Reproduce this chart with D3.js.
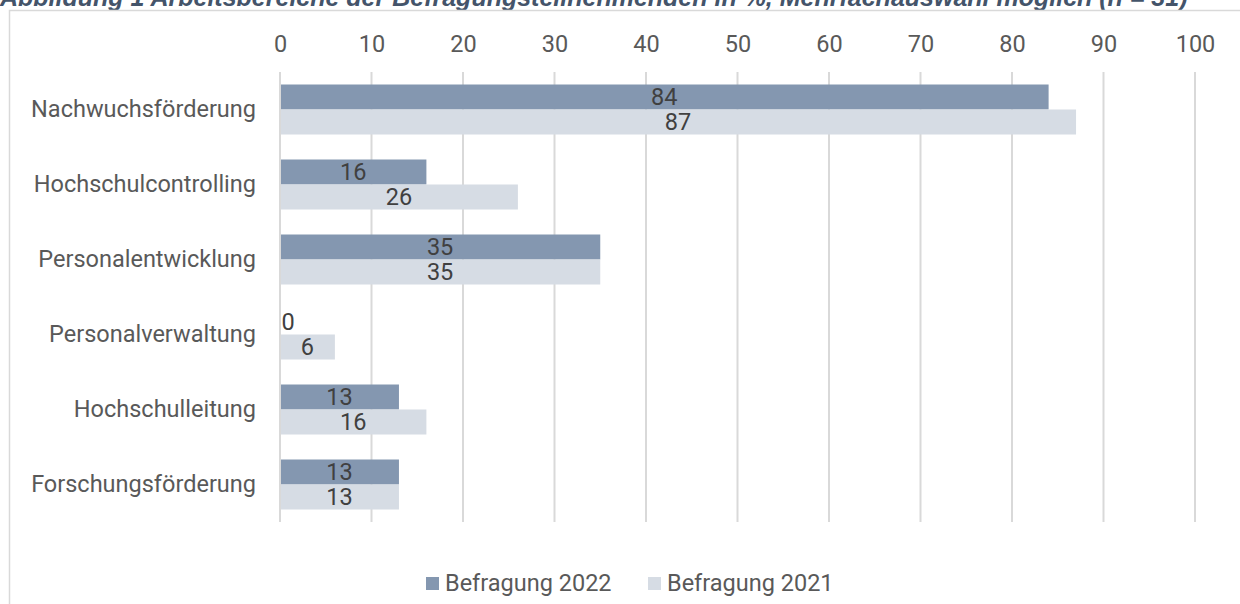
<!DOCTYPE html>
<html>
<head>
<meta charset="utf-8">
<script src="https://cdn.jsdelivr.net/npm/d3@7"></script>
<style>
  body { margin: 0; background: #fff; overflow: hidden; }
  svg { display: block; font-family: Roboto, "Noto Sans", sans-serif; }
</style>
</head>
<body>
<svg id="chart" width="1240" height="604"></svg>
<script>
// data
var categories = ["Nachwuchsförderung", "Hochschulcontrolling", "Personalentwicklung",
                  "Personalverwaltung", "Hochschulleitung", "Forschungsförderung"];
var values2022 = [84, 16, 35, 0, 13, 13];
var values2021 = [87, 26, 35, 6, 16, 13];
var seriesNames = ["Befragung 2022", "Befragung 2021"];
var xTicks = [0, 10, 20, 30, 40, 50, 60, 70, 80, 90, 100];

var colors = ["#8497b0", "#d6dce4"];
var fontSize = "23.5px";
var svg = d3.select("#chart");

// title, clipped by the top edge like in the original
svg.append("text")
  .attr("x", 0)
  .attr("y", 6)
  .attr("font-family", "'Liberation Sans', Arial, sans-serif")
  .attr("font-weight", "bold")
  .attr("font-style", "italic")
  .attr("font-size", "25px")
  .attr("fill", "#44546a")
  .text("Abbildung 1 Arbeitsbereiche der Befragungsteilnehmenden in %, Mehrfachauswahl möglich (n = 31)");

// chart frame
svg.append("rect")
  .attr("x", 9.5).attr("y", 10.5)
  .attr("width", 1240).attr("height", 620)
  .attr("fill", "#fff")
  .attr("stroke", "#d9d9d9")
  .attr("stroke-width", 1.5);

var x = d3.scaleLinear().domain([0, 100]).range([280, 1195]);
var y = d3.scaleBand().domain(categories).range([72, 522]).paddingInner(1 / 3).paddingOuter(1 / 6);
var sub = d3.scaleBand().domain(seriesNames).range([0, y.bandwidth()]);

// grid lines
svg.append("g")
  .selectAll("line")
  .data(xTicks)
  .enter()
  .append("line")
  .attr("x1", d => x(d)).attr("x2", d => x(d))
  .attr("y1", 72).attr("y2", 522)
  .attr("stroke", "#d9d9d9")
  .attr("stroke-width", 2);

// top axis labels
var xAxis = svg.append("g")
  .attr("transform", "translate(0,52)")
  .call(d3.axisTop(x).tickValues(xTicks).tickSize(0).tickPadding(0));
xAxis.select(".domain").remove();
xAxis.selectAll("text")
  .attr("font-family", "Roboto, sans-serif")
  .attr("font-size", fontSize)
  .attr("fill", "#595959");

// category labels
var yAxis = svg.append("g")
  .attr("transform", "translate(256,0)")
  .call(d3.axisLeft(y).tickSize(0).tickPadding(0));
yAxis.select(".domain").remove();
yAxis.selectAll("text")
  .attr("font-family", "Roboto, sans-serif")
  .attr("font-size", fontSize)
  .attr("fill", "#595959");

var rows = [];
categories.forEach(function(c, i) {
  rows.push({ cat: c, series: seriesNames[0], value: values2022[i], color: colors[0] });
  rows.push({ cat: c, series: seriesNames[1], value: values2021[i], color: colors[1] });
});

// bars
svg.append("g")
  .selectAll("rect")
  .data(rows)
  .enter()
  .append("rect")
  .attr("x", x(0) + 1)
  .attr("y", d => y(d.cat) + sub(d.series))
  .attr("width", d => Math.max(0, x(d.value) - x(0) - 1))
  .attr("height", sub.bandwidth())
  .attr("fill", d => d.color);

// value labels
svg.append("g")
  .selectAll("text")
  .data(rows)
  .enter()
  .append("text")
  .attr("x", d => Math.max((x(0) + x(d.value)) / 2, x(0) + 8))
  .attr("y", d => y(d.cat) + sub(d.series) + sub.bandwidth() / 2)
  .attr("dy", "0.35em")
  .attr("text-anchor", "middle")
  .attr("font-size", fontSize)
  .attr("fill", "#404040")
  .text(d => d.value);

// legend
var legend = svg.append("g");
var legendX = [426, 648];
seriesNames.forEach(function(s, i) {
  legend.append("rect")
    .attr("x", legendX[i]).attr("y", 577)
    .attr("width", 13).attr("height", 13)
    .attr("fill", colors[i]);
  legend.append("text")
    .attr("x", legendX[i] + 19).attr("y", 583)
    .attr("dy", "0.35em")
    .attr("font-size", fontSize)
    .attr("fill", "#595959")
    .text(s);
});
</script>
</body>
</html>
